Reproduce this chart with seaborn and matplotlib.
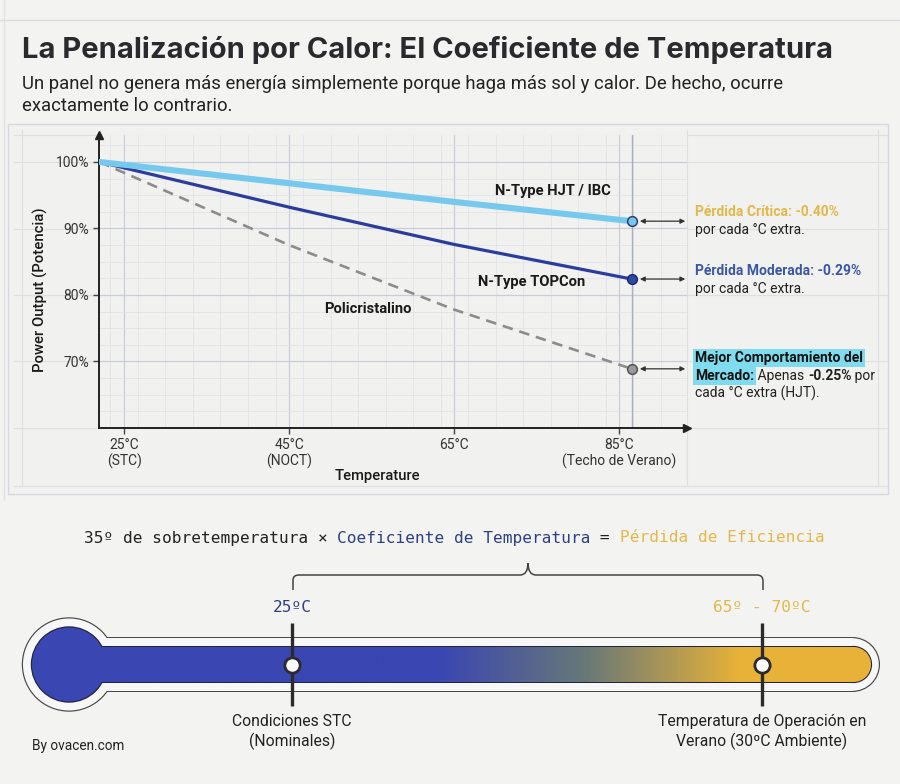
import numpy as np
import pandas as pd
import matplotlib
matplotlib.use("Agg")
import matplotlib.pyplot as plt
import seaborn as sns
from matplotlib.patches import Ellipse, Rectangle, PathPatch
from matplotlib.path import Path
from matplotlib.ticker import MultipleLocator

# ---------------- data ----------------
temps = [22, 45, 65, 86.5]
hjt = [100, 96.8, 94.0, 91.1]
topcon = [100, 93.2, 87.6, 82.4]
poly = [100, 87.5, 77.8, 68.9]
series_names = ["N-Type HJT / IBC", "N-Type TOPCon", "Policristalino"]
x_ticks = [25, 45, 65, 85]
x_tick_labels = ["25°C\n(STC)", "45°C\n(NOCT)", "65°C", "85°C\n(Techo de Verano)"]
y_ticks = [70, 80, 90, 100]
y_tick_labels = ["70%", "80%", "90%", "100%"]
thermo_temps = [25, 67.5]
thermo_top_labels = ["25ºC", "65º - 70ºC"]
thermo_bottom_labels = ["Condiciones STC\n(Nominales)", "Temperatura de Operación en\nVerano (30ºC Ambiente)"]

title = "La Penalización por Calor: El Coeficiente de Temperatura"
subtitle = ("Un panel no genera más energía simplemente porque haga más sol y calor. De hecho, ocurre\n"
            "exactamente lo contrario.")

# ---------------- style ----------------
sns.set_theme(style="white")
plt.rcParams["font.family"] = ["Roboto", "DejaVu Sans"]

W, H = 900, 784
BG = "#f3f3f1"
fig = plt.figure(figsize=(9, 7.84), dpi=100, facecolor=BG)

BLUE_D = "#2b3c9e"
BLUE_L = "#76c9ed"
GREY = "#8c8c8c"
YEL = "#e2b84a"
NAVY = "#2d3f86"


def fx(x):
    return x / W


def fy(y):
    return 1 - y / H


renderer = fig.canvas.get_renderer()


def text_width(s, **kw):
    t1 = fig.text(0, 0, s + "|", **kw)
    t2 = fig.text(0, 0, "|", **kw)
    w = t1.get_window_extent(renderer).width - t2.get_window_extent(renderer).width
    t1.remove()
    t2.remove()
    return w


def seq_text(x_px, y_px, pieces, center=False, **common):
    widths = []
    for p in pieces:
        kw = dict(common)
        kw.update(p[1])
        kw.pop("bbox", None)
        widths.append(text_width(p[0], **kw))
    x = x_px - sum(widths) / 2 if center else x_px
    for p, w in zip(pieces, widths):
        kw = dict(common)
        kw.update(p[1])
        fig.text(fx(x), fy(y_px), p[0], ha="left", va="center", **kw)
        x += w


# ---------------- background panel ----------------
ax_bg = fig.add_axes([0, 0, 1, 1], zorder=0)
ax_bg.set_xlim(0, W)
ax_bg.set_ylim(H, 0)
ax_bg.axis("off")
ax_bg.add_patch(Rectangle((8, 124), 880, 370, facecolor="#f1f1ef", edgecolor="#d5d8de", lw=1.0))
ax_bg.plot([0, W], [20, 20], color="#d8dbe0", lw=1.0)
ax_bg.plot([4, 4], [0, 500], color="#dfe1e5", lw=1.0)
for yy in [135, 162, 229, 295, 361, 428]:
    ax_bg.plot([14, 887], [yy, yy], color="#dcdfe4", lw=0.8)
for xx in [22, 687, 878]:
    ax_bg.plot([xx, xx], [130, 486], color="#dcdfe4", lw=0.8)
ax_bg.plot([14, 887], [486, 486], color="#dcdfe4", lw=0.8)

# ---------------- main chart ----------------
ax = fig.add_axes([fx(99), fy(428), (687 - 99) / W, (428 - 135) / H], zorder=2)
ax.set_facecolor("#f1f1ef")

df = pd.DataFrame({
    "temp": temps * 3,
    "power": hjt + topcon + poly,
    "panel": [series_names[0]] * len(temps) + [series_names[1]] * len(temps) + [series_names[2]] * len(temps),
})
sns.lineplot(data=df[df.panel == series_names[2]], x="temp", y="power", ax=ax, color=GREY,
             linewidth=1.9, linestyle=(0, (4, 2.6)), zorder=3, legend=False)
sns.lineplot(data=df[df.panel == series_names[1]], x="temp", y="power", ax=ax, color=BLUE_D,
             linewidth=2.3, zorder=4, legend=False)
sns.lineplot(data=df[df.panel == series_names[0]], x="temp", y="power", ax=ax, color=BLUE_L,
             linewidth=4.4, zorder=5, legend=False)

ax.set_xlim(21.94, 93.21)
ax.set_ylim(60, 104.06)
ax.set_xticks(x_ticks)
ax.set_xticklabels(x_tick_labels)
ax.set_yticks(y_ticks)
ax.set_yticklabels(y_tick_labels)
ax.xaxis.set_minor_locator(MultipleLocator(20 / 6))
ax.yaxis.set_minor_locator(MultipleLocator(2.5))
ax.grid(which="major", color="#c9cdd7", lw=0.9)
ax.grid(which="minor", color="#e1e3e7", lw=0.6)
ax.set_axisbelow(True)
for s in ["top", "right"]:
    ax.spines[s].set_visible(False)
for s in ["left", "bottom"]:
    ax.spines[s].set_color("#222222")
    ax.spines[s].set_linewidth(1.4)
ax.tick_params(axis="both", which="major", direction="out", length=4, width=1, color="#444444",
               labelsize=10, labelcolor="#333333", pad=3, left=True, bottom=True)
ax.tick_params(axis="both", which="minor", length=0)
ax.set_xlabel("")
ax.set_ylabel("")
ax.plot(0, 1, marker="^", ms=6, color="#222222", transform=ax.transAxes, clip_on=False, zorder=6)
ax.plot(1, 0, marker=">", ms=6, color="#222222", transform=ax.transAxes, clip_on=False, zorder=6)

# vertical line through end points
end_t = temps[-1]
ax.axvline(end_t, color="#a9afbd", lw=1.0, zorder=2)

# end markers
end_styles = [(hjt[-1], BLUE_L, "#2e3f6e"), (topcon[-1], "#3346a8", "#1e2a6e"), (poly[-1], "#9a9a9a", "#555555")]
for v, fc, ec in end_styles:
    ax.plot(end_t, v, "o", ms=7, mfc=fc, mec=ec, mew=1.1, zorder=7, clip_on=False)
    ax.annotate("", xy=(93.0, v), xytext=(end_t + 1.0, v),
                arrowprops=dict(arrowstyle="<|-|>", color="#333333", lw=0.9, mutation_scale=7,
                                shrinkA=0, shrinkB=0), annotation_clip=False, zorder=7)

# line labels
LBL = dict(ha="center", va="center", fontsize=10.6, weight="semibold", color="#1a1a1a", zorder=8)
ax.text(76.97, 95.6, series_names[0], **LBL)
ax.text(74.4, 82.0, series_names[1], **LBL)
ax.text(54.5, 77.9, series_names[2], **LBL)

fig.text(fx(377), fy(476), "Temperature", ha="center", va="center", fontsize=10.6, weight="medium", color="#1a1a1a")
fig.text(fx(40), fy(290), "Power Output (Potencia)", ha="center", va="center", rotation=90,
         fontsize=10.7, weight="medium", color="#1a1a1a")

# ---------------- right annotations ----------------
AF = dict(fontsize=10)
seq_text(695, 212, [("Pérdida Crítica: -0.40%", dict(weight="bold", color=YEL))], **AF)
seq_text(695, 230, [("por cada °C extra.", dict(color="#222222"))], **AF)
seq_text(695, 271, [("Pérdida Moderada: -0.29%", dict(weight="bold", color="#3a56a8"))], **AF)
seq_text(695, 289, [("por cada °C extra.", dict(color="#222222"))], **AF)
HL = dict(boxstyle="square,pad=0.15", facecolor="#7fdcef", edgecolor="none")
seq_text(695, 358, [("Mejor Comportamiento del", dict(weight="bold", color="#111111", bbox=HL))], **AF)
seq_text(695, 376, [("Mercado:", dict(weight="bold", color="#111111", bbox=HL)),
                    (" Apenas ", dict(color="#222222")),
                    ("-0.25%", dict(weight="bold", color="#222222")),
                    (" por", dict(color="#222222"))], **AF)
seq_text(695, 393, [("cada °C extra (HJT).", dict(color="#222222"))], **AF)

# ---------------- title ----------------
fig.text(fx(22), fy(50), title, ha="left", va="center", fontsize=21, weight="bold",
         color="#2a2a2e", family=["Inter", "DejaVu Sans"])
fig.text(fx(22), fy(95), subtitle, ha="left", va="center", fontsize=13.3, color="#222222", linespacing=1.3)

# ---------------- formula ----------------
MONO = dict(family=["DejaVu Sans Mono"], fontsize=11.6)
seq_text(454, 538, [("35º de sobretemperatura × ", dict(color="#222222")),
                    ("Coeficiente de Temperatura", dict(color=NAVY)),
                    (" = ", dict(color="#222222")),
                    ("Pérdida de Eficiencia", dict(color=YEL))], center=True, **MONO)

fig.text(fx(32), fy(746), "By ovacen.com", ha="left", va="center", fontsize=9.8, color="#222222")

# ---------------- thermometer ----------------
ax_t = fig.add_axes([0, 0, 1, 284 / H], zorder=3)
k = (762 - 292) / (thermo_temps[1] - thermo_temps[0])


def t_of(px):
    return thermo_temps[0] + (px - 292) / k


def circle(cx, cy, r, color, z):
    ax_t.add_patch(Ellipse((t_of(cx), cy), 2 * r / k, 2 * r, facecolor=color, edgecolor="none", zorder=z))


def capsule(x0, x1, cy, h, color, z):
    ax_t.add_patch(Rectangle((t_of(x0), cy - h), t_of(x1) - t_of(x0), 2 * h, facecolor=color, edgecolor="none", zorder=z))
    circle(x1, cy, h, color, z)


CY = 664.5
# outer outline + white
circle(69, CY, 47.2, "#4a4a4a", 1)
capsule(69, 852.5, CY, 27.5, "#4a4a4a", 1)
circle(69, CY, 46.0, "#f7f7f7", 2)
capsule(69, 852.5, CY, 26.3, "#f7f7f7", 2)
# inner outline
circle(69, CY, 38.2, "#23263a", 3)
capsule(69, 853.5, CY, 18.6, "#23263a", 3)
# gradient fill
blue = np.array([58, 70, 178]) / 255
mid = np.array([104, 120, 120]) / 255
yel = np.array([232, 178, 56]) / 255
xs = np.linspace(69, 853.5, 600)
stops = [440, 585, 740]
img = np.stack([np.interp(xs, stops, [blue[i], mid[i], yel[i]]) for i in range(3)], axis=1)
ax_t.imshow(img[np.newaxis, :, :], extent=(t_of(69), t_of(853.5), CY + 17.5, CY - 17.5),
            aspect="auto", zorder=4, interpolation="bilinear")
circle(853.5, CY, 17.5, yel, 4)
circle(69, CY, 37, blue, 5)
ax_t.set_xlim(t_of(0), t_of(W))
ax_t.set_ylim(H, 500)
ax_t.axis("off")

# brace
bx = lambda p: t_of(p)
verts = [(bx(293), 590), (bx(293), 580), (bx(293), 575), (bx(299), 575), (bx(520), 575),
         (bx(528), 575), (bx(528), 563), (bx(528), 575), (bx(536), 575), (bx(757), 575),
         (bx(763), 575), (bx(763), 581), (bx(763), 590)]
codes = [Path.MOVETO, Path.LINETO, Path.CURVE3, Path.CURVE3, Path.LINETO,
         Path.CURVE3, Path.CURVE3, Path.CURVE3, Path.CURVE3, Path.LINETO,
         Path.CURVE3, Path.CURVE3, Path.LINETO]
ax_t.add_patch(PathPatch(Path(verts, codes), facecolor="none", edgecolor="#444444", lw=1.1, zorder=6))

top_colors = [NAVY, YEL]
for T, lab, blab, col in zip(thermo_temps, thermo_top_labels, thermo_bottom_labels, top_colors):
    ax_t.plot([T, T], [623, 706], color="#2b2b2b", lw=2.4, solid_capstyle="butt", zorder=8)
    ax_t.plot(T, CY, "o", ms=11, mfc="white", mec="#2b2b2b", mew=2.0, zorder=9)
    ax_t.text(T, 607, lab, ha="center", va="center", color=col, **MONO)
    ax_t.text(T, 732, blab, ha="center", va="center", fontsize=11.3, color="#222222", linespacing=1.25)

fig.savefig("out.png", dpi=100, facecolor=BG)
